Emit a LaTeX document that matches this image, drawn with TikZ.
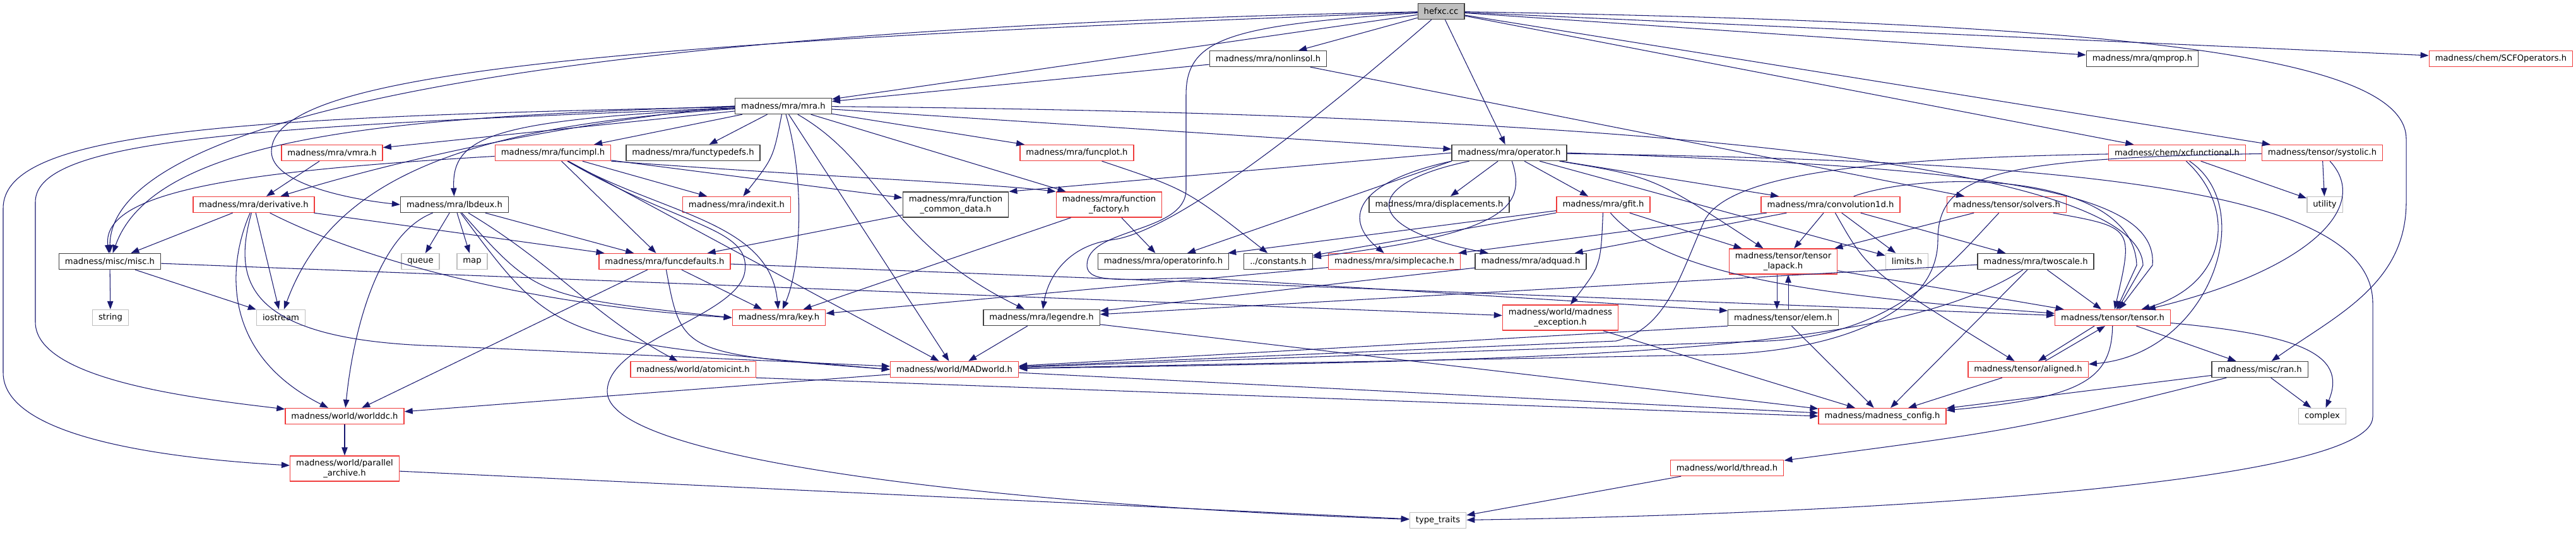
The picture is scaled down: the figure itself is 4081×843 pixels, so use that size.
\documentclass[tikz,border=0pt]{standalone}
\usepackage{fontspec}
\setmainfont{DejaVu Sans}
\usetikzlibrary{arrows.meta}

\definecolor{depblue}{HTML}{191970}
\definecolor{hdrred}{HTML}{F03C3C}
\definecolor{hdrgray}{HTML}{BFBFBF}
\definecolor{hdrdark}{HTML}{404040}

\begin{document}
\begin{tikzpicture}[
    x=0.02cm, y=-0.02cm, % one unit is one pixel of the graph
    every node/.style={font=\fontsize{7.5}{8.6}\selectfont, inner xsep=0.19cm,
        inner ysep=0pt, minimum height=0.5cm, line width=0.8pt},
    known/.style={draw=hdrdark},
    trunc/.style={draw=hdrred},
    sys/.style={draw=hdrgray},
    twoline/.style={align=center, minimum height=0.8cm},
    dep/.style={->, draw=depblue, line width=0.6pt},
    >={Triangle[length=0.26cm, width=0.19cm]}
]
    \useasboundingbox (0,0) rectangle (4081,843);

    % Place the nodes, row by row
    \node (hefxc) [known, fill=hdrgray] at (2283,18) {hefxc.cc};

    \node (nonlinsol) [known] at (2009,93) {madness/mra/nonlinsol.h};
    \node (qmprop) [known] at (3394,93) {madness/mra/qmprop.h};
    \node (scfop) [trunc] at (3962,93) {madness/chem/SCFOperators.h};

    \node (mra) [known] at (1241,168) {madness/mra/mra.h};

    \node (vmra) [trunc] at (526,242) {madness/mra/vmra.h};
    \node (funcimpl) [trunc] at (876,242) {madness/mra/funcimpl.h};
    \node (functypedefs) [known] at (1098,242) {madness/mra/functypedefs.h};
    \node (funcplot) [trunc] at (1706,242) {madness/mra/funcplot.h};
    \node (operator) [known] at (2391,242) {madness/mra/operator.h};
    \node (xcfunc) [trunc] at (3449,242) {madness/chem/xcfunctional.h};
    \node (systolic) [trunc] at (3679,242) {madness/tensor/systolic.h};

    \node (derivative) [trunc] at (402,324) {madness/mra/derivative.h};
    \node (lbdeux) [known] at (720,324) {madness/mra/lbdeux.h};
    \node (indexit) [trunc] at (1167,324) {madness/mra/indexit.h};
    \node (fcommon) [known, twoline] at (1514,324) {madness/mra/function\\\_common\_data.h};
    \node (ffactory) [trunc, twoline] at (1757,324) {madness/mra/function\\\_factory.h};
    \node (displacements) [known] at (2280,324) {madness/mra/displacements.h};
    \node (gfit) [trunc] at (2540,324) {madness/mra/gfit.h};
    \node (conv1d) [trunc] at (2900,324) {madness/mra/convolution1d.h};
    \node (solvers) [trunc] at (3179,324) {madness/tensor/solvers.h};
    \node (utility) [sys] at (3683,324) {utility};

    \node (misc) [known] at (174,414) {madness/misc/misc.h};
    \node (queue) [sys] at (666,414) {queue};
    \node (map) [sys] at (748,414) {map};
    \node (funcdefaults) [trunc] at (1053,414) {madness/mra/funcdefaults.h};
    \node (opinfo) [known] at (1843,414) {madness/mra/operatorinfo.h};
    \node (constants) [known] at (2025,414) {../constants.h};
    \node (simplecache) [trunc] at (2209,414) {madness/mra/simplecache.h};
    \node (adquad) [known] at (2425,414) {madness/mra/adquad.h};
    \node (tlapack) [trunc, twoline] at (2825,414) {madness/tensor/tensor\\\_lapack.h};
    \node (limits) [sys] at (3021,414) {limits.h};
    \node (twoscale) [known] at (3225,414) {madness/mra/twoscale.h};

    \node (string) [sys] at (175,503) {string};
    \node (iostream) [sys] at (445,503) {iostream};
    \node (key) [trunc] at (1234,503) {madness/mra/key.h};
    \node (legendre) [known] at (1650,503) {madness/mra/legendre.h};
    \node (mexception) [trunc, twoline] at (2472,503) {madness/world/madness\\\_exception.h};
    \node (elem) [known] at (2825,503) {madness/tensor/elem.h};
    \node (tensor) [trunc] at (3347,503) {madness/tensor/tensor.h};

    \node (atomicint) [trunc] at (1098,585) {madness/world/atomicint.h};
    \node (madworld) [trunc] at (1512,585) {madness/world/MADworld.h};
    \node (aligned) [trunc] at (3213,585) {madness/tensor/aligned.h};
    \node (ran) [known] at (3580,585) {madness/misc/ran.h};

    \node (worlddc) [trunc] at (546,659) {madness/world/worlddc.h};
    \node (config) [trunc] at (2982,659) {madness/madness\_config.h};
    \node (complex) [sys] at (3679,659) {complex};

    \node (parchive) [trunc, twoline] at (546,742) {madness/world/parallel\\\_archive.h};
    \node (thread) [trunc] at (2736,741) {madness/world/thread.h};

    \node (typetraits) [sys] at (2278,824) {type\_traits};

    % Draw the edges of hefxc.cc
    \draw [dep] (hefxc) -- (nonlinsol);
    \draw [dep] (hefxc) -- (mra);
    \draw [dep] (hefxc) -- (operator);
    \draw [dep] (hefxc) -- (qmprop);
    \draw [dep] (hefxc) -- (scfop);
    \draw [dep] (hefxc) -- (xcfunc);
    \draw [dep] (hefxc) -- (systolic);
    \draw [dep] (hefxc) .. controls (900,45) and (175,180) .. (misc);
    \draw [dep] (hefxc) .. controls (900,70) and (430,120) .. (430,240)
        .. controls (430,290) and (550,315) .. (lbdeux.west);
    \draw [dep] (hefxc) .. controls (3300,35) and (3812,80) .. (3812,220) -- (3812,320)
        .. controls (3812,450) and (3700,500) .. (ran);
    \draw [dep] (hefxc) .. controls (2050,220) and (1850,370) .. (1760,380)
        .. controls (1690,390) and (1660,440) .. (legendre);
    \draw [dep] (hefxc) .. controls (1950,40) and (1879,60) .. (1879,150) -- (1879,300)
        .. controls (1879,370) and (1722,360) .. (1722,420)
        .. controls (1722,450) and (1780,442) .. (1900,440) -- ([yshift=0.22cm]elem.west);

    \draw [dep] (nonlinsol) -- (mra);
    \draw [dep] (nonlinsol) -- (solvers);

    % edges of mra.h
    \draw [dep] (mra) -- (vmra);
    \draw [dep] (mra.west) .. controls (900,195) and (640,250) .. (derivative);
    \draw [dep] (mra.west) .. controls (700,185) and (250,200) .. (misc);
    \draw [dep] (mra) .. controls (780,190) and (715,215) .. (lbdeux);
    \draw [dep] (mra) -- (funcimpl);
    \draw [dep] (mra) -- (functypedefs);
    \draw [dep] (mra) .. controls (1225,250) .. (indexit);
    \draw [dep] (mra) -- (funcplot);
    \draw [dep] (mra) -- (ffactory);
    \draw [dep] (mra) -- (operator);
    \draw [dep] (mra) -- (madworld);
    \draw [dep] (mra) .. controls (700,200) and (520,300) .. (iostream);
    \draw [dep] (mra) .. controls (1275,280) and (1270,420) .. (key);
    \draw [dep] (mra) .. controls (1400,260) and (1400,380) .. (legendre);
    \draw [dep] (mra) .. controls (2600,180) and (3390,260) .. (3395,420) -- (tensor);
    \draw [dep] (mra) .. controls (400,200) and (56,220) .. (56,320) -- (56,510)
        .. controls (56,600) and (300,630) .. (worlddc);
    \draw [dep] (mra) .. controls (350,185) and (5,210) .. (5,330) -- (5,590)
        .. controls (5,690) and (250,725) .. (parchive);

    % edges of the mra headers
    \draw [dep] (vmra) -- (derivative);

    \draw [dep] (funcimpl) .. controls (400,270) and (160,300) .. (misc);
    \draw [dep] (funcimpl) -- (fcommon);
    \draw [dep] (funcimpl.south east) .. controls (1300,280) and (1560,290) .. (ffactory.north west);
    \draw [dep] (funcimpl) -- (funcdefaults);
    \draw [dep] (funcimpl) -- (indexit);
    \draw [dep] (funcimpl) .. controls (1050,340) and (1220,350) .. (key);
    \draw [dep] (funcimpl) -- (madworld);
    \draw [dep] (funcimpl) .. controls (1080,360) and (1190,360) .. (1180,430)
        .. controls (1170,500) and (962,540) .. (962,620)
        .. controls (962,730) and (1600,800) .. (typetraits);

    \draw [dep] (derivative) -- (misc);
    \draw [dep] (derivative) -- (iostream);
    \draw [dep] (derivative) -- (funcdefaults);
    \draw [dep] (derivative) .. controls (550,400) and (800,480) .. (key.west);
    \draw [dep] (derivative) .. controls (360,420) and (350,560) .. (worlddc);
    \draw [dep] (derivative) .. controls (370,440) and (380,540) .. (700,548)
        -- ([yshift=0.1cm]madworld.west);

    \draw [dep] (lbdeux) -- (queue);
    \draw [dep] (lbdeux) -- (map);
    \draw [dep] (lbdeux) -- (funcdefaults);
    \draw [dep] (lbdeux) .. controls (850,470) .. (key.west);
    \draw [dep] (lbdeux) .. controls (880,540) .. (madworld.west);
    \draw [dep] (lbdeux) .. controls (600,370) and (560,520) .. (worlddc);
    \draw [dep] (lbdeux) .. controls (880,420) and (940,500) .. (atomicint);

    \draw [dep] (misc) -- (string);
    \draw [dep] (misc) -- (iostream);
    \draw [dep] (misc) -- (mexception);

    \draw [dep] (fcommon) -- (funcdefaults);
    \draw [dep] (ffactory) -- (opinfo);
    \draw [dep] (ffactory) -- (key);
    \draw [dep] (funcplot) .. controls (1880,300) .. (constants);

    \draw [dep] (funcdefaults) -- (key);
    \draw [dep] (funcdefaults) .. controls (1080,560) .. (madworld.west);
    \draw [dep] (funcdefaults) -- (worlddc);
    \draw [dep] (funcdefaults) -- (tensor);

    % edges of operator.h
    \draw [dep] (operator) -- (displacements);
    \draw [dep] (operator) -- (gfit);
    \draw [dep] (operator) -- (conv1d);
    \draw [dep] (operator) -- (limits);
    \draw [dep] (operator.west) -- (fcommon.north east);
    \draw [dep] (operator.south west) -- (opinfo);
    \draw [dep] (operator) .. controls (2420,330) and (2380,370) .. (constants);
    \draw [dep] (operator.south west) .. controls (2140,290) and (2130,350) .. (simplecache);
    \draw [dep] (operator) .. controls (2160,290) and (2150,360) .. (adquad);
    \draw [dep] (operator) .. controls (2620,280) .. (tlapack);
    \draw [dep] (operator.east) .. controls (3150,265) and (3420,300) .. (3410,420) -- (tensor);
    \draw [dep] (operator) .. controls (3300,255) and (3759,300) .. (3759,480) -- (3759,660)
        .. controls (3759,770) and (2900,815) .. (typetraits);

    \draw [dep] (gfit) -- (opinfo);
    \draw [dep] (gfit) -- (constants);
    \draw [dep] (gfit) .. controls (2536,420) .. (mexception);
    \draw [dep] (gfit) -- (tlapack);
    \draw [dep] (gfit) .. controls (2640,440) and (2900,470) .. (tensor);

    \draw [dep] (conv1d) -- (adquad);
    \draw [dep] (conv1d) -- (simplecache);
    \draw [dep] (conv1d) -- (tlapack);
    \draw [dep] (conv1d) -- (limits);
    \draw [dep] (conv1d) -- (twoscale);
    \draw [dep] (conv1d) .. controls (2960,430) .. (aligned);
    \draw [dep] (conv1d) .. controls (3050,270) and (3380,270) .. (3385,420) -- (tensor);

    \draw [dep] (solvers) -- (tlapack);
    \draw [dep] (solvers) .. controls (3380,360) .. (tensor);
    \draw [dep] (solvers) .. controls (3080,430) and (3000,530) .. (2800,540) -- (madworld);

    \draw [dep] (simplecache) -- (key);
    \draw [dep] (adquad) -- (legendre);

    % edges of the tensor headers
    \draw [dep] ([xshift=-0.2cm]tlapack.south) -- ([xshift=-0.2cm]elem.north);
    \draw [dep] ([xshift=0.16cm]elem.north) -- ([xshift=0.16cm]tlapack.south);
    \draw [dep] (tlapack) -- (tensor);
    \draw [dep] (elem) -- (config);
    \draw [dep] (elem.south west) -- (madworld);

    \draw [dep] (twoscale) -- (tensor);
    \draw [dep] (twoscale) -- (config);
    \draw [dep] (twoscale) -- (legendre);
    \draw [dep] (twoscale) .. controls (3000,560) and (2500,570) .. (madworld);

    \draw [dep] (xcfunc) -- (utility);
    \draw [dep] (xcfunc) .. controls (3545,330) and (3530,450) .. (tensor);
    \draw [dep] (xcfunc) .. controls (3580,330) and (3500,560) .. (aligned);
    \draw [dep] (xcfunc) .. controls (3000,250) and (2740,270) .. (2700,350)
        .. controls (2660,440) and (2640,520) .. (2560,540) -- (madworld);

    \draw [dep] (systolic) -- (utility);
    \draw [dep] (systolic) .. controls (3760,330) and (3650,430) .. (tensor);
    \draw [dep] (systolic) .. controls (3150,250) and (3070,280) .. (3070,380)
        .. controls (3070,500) and (2900,560) .. (2700,562) -- (madworld);

    \draw [dep] ([xshift=-0.58cm]tensor.south) -- ([xshift=0.32cm]aligned.north);
    \draw [dep] ([xshift=0.54cm]aligned.north) -- ([xshift=-0.24cm]tensor.south);
    \draw [dep] (tensor) -- (ran);
    \draw [dep] (tensor) .. controls (3640,530) and (3720,560) .. (complex);
    \draw [dep] (tensor) .. controls (3345,600) and (3300,630) .. (config);
    \draw [dep] (aligned) -- (config);

    \draw [dep] (ran) -- (complex);
    \draw [dep] (ran) -- (config);
    \draw [dep] (ran) .. controls (3200,680) .. (thread);

    % edges of the world headers
    \draw [dep] (legendre) -- (madworld);
    \draw [dep] (legendre) -- (config);
    \draw [dep] (mexception) -- (config);
    \draw [dep] (atomicint.south east) -- (config.west);
    \draw [dep] (madworld) -- (worlddc);
    \draw [dep] (madworld) -- (config);
    \draw [dep] (worlddc) -- (parchive);
    \draw [dep] (parchive) -- (typetraits);
    \draw [dep] (thread) -- (typetraits);
\end{tikzpicture}
\end{document}
